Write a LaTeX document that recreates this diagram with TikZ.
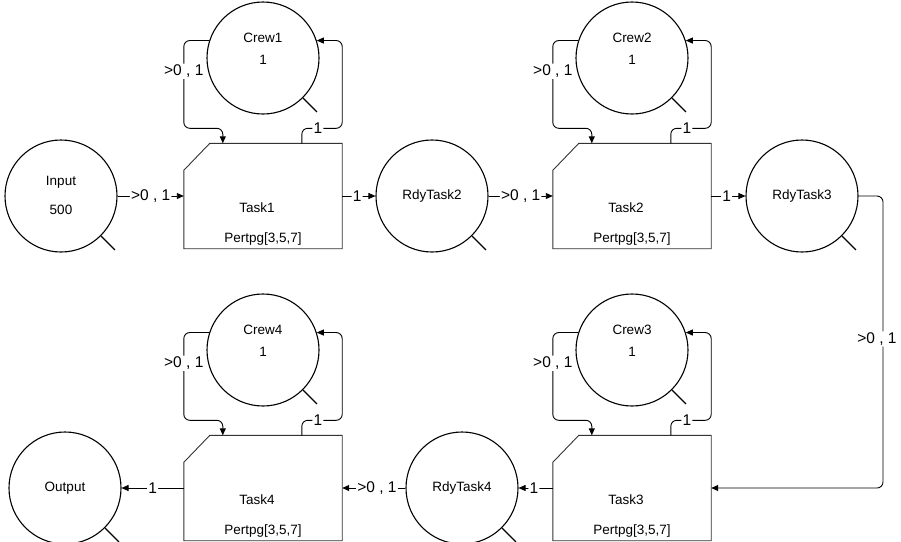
\documentclass[tikz,border=0pt]{standalone}
\usepackage{fontspec}
\setmainfont{Liberation Sans}
\usetikzlibrary{arrows.meta}
\begin{document}
\begin{tikzpicture}[x=1pt,y=-1pt,
 place/.style={circle,draw=black,line width=1.1pt,minimum size=112pt,inner sep=0pt},
 taskbox/.style={rectangle,minimum width=158pt,minimum height=105pt,inner sep=0pt},
 boxline/.style={draw=black!80,line width=0.9pt},
 conn/.style={draw=black,line width=0.9pt,-{Triangle[length=7pt,width=6pt]},rounded corners=6pt},
 lab/.style={fill=white,inner sep=1.2pt,font=\fontsize{15.5}{15.5}\selectfont},
 txt/.style={font=\fontsize{13.5}{13.5}\selectfont,inner sep=0pt},
 tail/.style={draw=black,line width=1.2pt}
]
\useasboundingbox (0,0) rectangle (901,541);
% ---------- nodes row 1
\node[place] (input) at (61,196) {};
\node[txt] (inputname) at (61,182) {Input};
\node[txt] (inputval) at (61,210) {500};
\node[taskbox] (t1) at (263,196) {};
\node[txt] (t1name) at (257,208) {Task1};
\node[txt] (t1dist) at (263,239) {Pertpg[3,5,7]};
\node[place] (r2) at (432,196) {};
\node[txt] (r2name) at (432,196) {RdyTask2};
\node[taskbox] (t2) at (632,196) {};
\node[txt] (t2name) at (626,208) {Task2};
\node[txt] (t2dist) at (632,239) {Pertpg[3,5,7]};
\node[place] (r3) at (802,196) {};
\node[txt] (r3name) at (802,196) {RdyTask3};
\node[place] (c1) at (263,58) {};
\node[txt] (c1name) at (263,38) {Crew1};
\node[txt] (c1val) at (263,60) {1};
\node[place] (c2) at (632,58) {};
\node[txt] (c2name) at (632,38) {Crew2};
\node[txt] (c2val) at (632,60) {1};
% ---------- nodes row 2
\node[place] (out) at (65,488) {};
\node[txt] (outname) at (65,488) {Output};
\node[taskbox] (t4) at (263,488) {};
\node[txt] (t4name) at (257,500) {Task4};
\node[txt] (t4dist) at (263,531) {Pertpg[3,5,7]};
\node[place] (r4) at (462,488) {};
\node[txt] (r4name) at (462,488) {RdyTask4};
\node[taskbox] (t3) at (632,488) {};
\node[txt] (t3name) at (626,500) {Task3};
\node[txt] (t3dist) at (632,531) {Pertpg[3,5,7]};
\node[place] (c4) at (263,350) {};
\node[txt] (c4name) at (263,330) {Crew4};
\node[txt] (c4val) at (263,352) {1};
\node[place] (c3) at (632,350) {};
\node[txt] (c3name) at (632,330) {Crew3};
\node[txt] (c3val) at (632,352) {1};
% ---------- task outlines (chamfered)
\foreach \t in {t1,t2,t3,t4}{
  \draw[boxline] ([yshift=-27pt]\t.north west) -- ([xshift=26pt]\t.north west) -- (\t.north east) -- (\t.south east) -- (\t.south west) -- cycle;
}
% ---------- tails
\foreach \n in {input,r2,r3,c1,c2,out,r4,c3,c4}{
  \draw[tail] (\n.-45) -- ++(14,14);
}
% ---------- main flow
\coordinate (bendA) at (883,196);
\coordinate (bendB) at (883,488);
\draw[conn] (input.east) -- node[lab,pos=0.5]{>0 , 1} (t1.west);
\draw[conn] (t1.east) -- node[lab,pos=0.45]{1} (r2.west);
\draw[conn] (r2.east) -- node[lab,pos=0.5]{>0 , 1} (t2.west);
\draw[conn] (t2.east) -- node[lab,pos=0.45]{1} (r3.west);
\draw[conn] (r3.east) -- (bendA) -- node[lab,pos=0.49,xshift=-6pt]{>0 , 1} (bendB) -- (t3.east);
\draw[conn] (t3.west) -- node[lab,pos=0.55]{1} (r4.east);
\draw[conn] (r4.west) -- node[lab,pos=0.45]{>0 , 1} (t4.east);
\draw[conn] (t4.west) -- node[lab,pos=0.5]{1} (out.east);
% ---------- crew loops
\foreach \c/\t in {c1/t1,c2/t2,c3/t3,c4/t4}{
  \draw[conn] (\c.162) -- (\t.north west |- \c.162) -- node[lab,pos=0.35]{>0 , 1} ([yshift=15pt]\t.north west) -- ([shift={(39pt,15pt)}]\t.north west) -- ([xshift=39pt]\t.north west);
  \draw[conn] ([xshift=118pt]\t.north west) -- ([shift={(118pt,15pt)}]\t.north west) -- node[lab,pos=0.4]{1} ([yshift=15pt]\t.north east) -- (\t.north east |- \c.18) -- (\c.18);
}
\end{tikzpicture}
\end{document}
